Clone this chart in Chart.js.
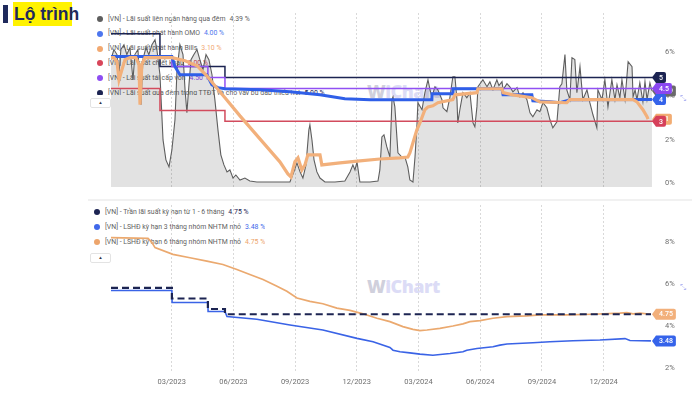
<!DOCTYPE html>
<html><head><meta charset="utf-8">
<script src="https://cdn.jsdelivr.net/npm/chart.js@4.4.1/dist/chart.umd.min.js"></script>
<style>
html,body{margin:0;padding:0;background:#fff;}
#wrap{position:relative;width:700px;height:393px;overflow:hidden;font-family:Roboto,"Noto Sans",sans-serif;}
canvas{position:absolute;left:0;}
.legend{position:absolute;overflow:hidden;font-size:6.9px;color:#5f5f5f;white-space:nowrap;}
.row{position:relative;padding-left:12px;}
.dot{position:absolute;left:1px;width:6px;height:6px;border-radius:50%;}
.val{margin-left:4px;}
.wm{position:absolute;font-family:"Open Sans",sans-serif;font-weight:800;font-size:18px;letter-spacing:-0.5px;}
.btn{position:absolute;width:19px;height:8px;border:1px solid #e3e3e3;border-radius:2px;background:#fff;font-size:4.5px;line-height:8px;text-align:center;color:#334;}
.ico{position:absolute;font-size:8px;color:#b3b7f2;font-family:"DejaVu Sans",sans-serif;}
</style></head><body>
<div id="wrap">
  <div style="position:absolute;left:3px;top:5px;width:5px;height:18px;background:#1f2a5c"></div>
  <div style="position:absolute;left:13px;top:2px;width:59px;height:24px;background:#fff200"></div>
  <div style="position:absolute;left:14px;top:2px;height:24px;line-height:24px;font-family:'Liberation Sans',Arial,sans-serif;font-weight:bold;font-size:17.5px;color:#1f2a5c">Lộ trình</div>
  <div class="wm" style="left:367px;top:79px"><span style="color:#d0d0dc">W</span><span style="color:#dcdcf6">iChart</span></div>
  <div class="wm" style="left:367px;top:274px"><span style="color:#d0d0dc">W</span><span style="color:#dcdcf6">iChart</span></div>
  <div class="legend" id="legTop" style="left:96px;top:11.6px;height:83.5px;"></div>
  <div class="legend" id="legBot" style="left:93px;top:204.6px;height:46px;"></div>
  <div style="position:absolute;left:88px;top:199px;width:604px;height:2px;background:#f1f1f1"></div>
  <canvas id="c1" width="700" height="197" style="top:0"></canvas>
  <canvas id="c2" width="700" height="196" style="top:197px"></canvas>
  <div class="btn" style="left:90px;top:98px">▲</div>
  <div class="btn" style="left:90px;top:253px">▲</div>
  <div class="ico" style="left:680px;top:94px">⤡</div>
  <div class="ico" style="left:680px;top:283px">⤡</div>
</div>
<script>
// ---------- shared x axis (months since Jan 2023) ----------
const X_MIN = -0.95, X_MAX = 25.4;
const xTickPos = [2, 5, 8, 11, 14, 17, 20, 23];
const xTickLabels = ['03/2023','06/2023','09/2023','12/2023','03/2024','06/2024','09/2024','12/2024'];
const yTicksTop = [0, 2, 4, 6];
const yTicksBot = [2, 4, 6, 8];

// ---------- top panel series ----------
const namesTop = [
  '[VN] - Lãi suất liên ngân hàng qua đêm',
  '[VN] - Lãi suất phát hành OMO',
  '[VN] - Lãi suất phát hành Bills',
  '[VN] - Lãi suất chiết khấu',
  '[VN] - Lãi suất tái cấp vốn',
  '[VN] - Lãi suất qua đêm trong TTĐT và cho vay bù đắp thiếu hụt'
];
const overnightX = [-0.95,-0.81,-0.66,-0.56,-0.47,-0.32,-0.18,-0.03,0.12,0.21,0.36,0.51,0.60,0.75,0.89,1.04,1.19,1.28,1.43,1.58,1.72,1.87,2.01,2.16,2.26,2.40,2.55,2.65,2.74,2.84,2.94,3.08,3.23,3.37,3.52,3.67,3.81,3.96,4.10,4.25,4.39,4.54,4.69,4.83,4.98,5.12,5.32,5.56,5.80,6.14,6.78,7.51,7.75,7.94,8.09,8.24,8.38,8.53,8.67,8.72,8.82,8.92,9.06,9.21,9.45,9.94,10.42,10.67,10.81,10.91,11.01,11.15,11.64,12.03,12.12,12.22,12.32,12.46,12.61,12.71,12.76,12.85,13.00,13.19,13.34,13.48,13.58,13.73,13.83,13.92,13.97,14.17,14.31,14.46,14.56,14.65,14.80,14.94,15.14,15.19,15.38,15.53,15.67,15.77,15.87,15.91,16.01,16.16,16.35,16.50,16.65,16.74,16.84,16.89,17.13,17.33,17.47,17.62,17.81,17.91,18.06,18.11,18.30,18.44,18.59,18.79,18.93,19.08,19.27,19.42,19.56,19.76,19.90,20.05,20.24,20.39,20.53,20.73,20.87,20.97,21.12,21.21,21.36,21.46,21.60,21.70,21.85,21.99,22.19,22.33,22.48,22.67,22.72,22.92,23.06,23.21,23.40,23.55,23.65,23.79,23.89,24.04,24.19,24.38,24.43,24.53,24.62,24.76,24.91,25.01,25.11,25.25,25.35];
const overnightY = [5.82,6.28,6.05,5.13,6.28,6.50,6.05,6.37,4.90,6.05,6.28,3.76,5.82,6.37,6.05,6.50,6.73,6.28,5.13,2.15,1.24,0.92,1.69,3.07,5.36,6.50,6.05,4.44,3.39,4.67,5.82,6.05,6.28,5.82,5.36,6.05,5.82,5.13,3.99,2.61,1.47,1.01,0.69,0.78,0.41,0.55,0.32,0.41,0.27,0.23,0.23,0.23,0.23,0.69,1.10,0.69,0.41,1.01,2.61,2.84,2.15,1.24,0.69,0.41,0.23,0.23,0.27,0.69,1.01,0.78,1.15,0.23,0.23,0.27,0.78,2.29,2.38,1.83,1.37,3.99,4.12,3.66,1.56,1.37,1.37,0.92,0.32,0.23,1.37,2.75,3.85,3.53,4.31,4.90,4.44,4.12,4.58,4.44,3.99,3.62,3.44,4.12,5.04,5.04,3.99,2.93,3.53,4.31,4.08,4.31,2.93,2.75,3.66,4.58,4.90,4.58,4.81,4.44,4.90,4.63,4.81,4.44,4.72,4.58,4.35,4.54,4.12,4.31,3.99,3.39,3.21,3.53,3.44,3.85,3.62,3.07,2.70,2.98,4.58,4.72,6.05,4.44,3.99,5.91,5.82,4.31,5.50,3.99,4.44,3.85,3.30,2.70,4.44,3.99,4.90,3.66,4.90,3.99,4.67,4.08,4.90,3.99,5.73,5.50,4.12,4.44,3.99,4.76,3.89,4.81,3.99,4.76,4.39];

const omoX = [-0.95,2.01,2.16,2.40,3.71,3.96,4.25,4.59,6.29,7.75,9.21,10.42,11.64,14.65,14.66,15.67,15.68,18.06,18.11,19.51,19.56,20.39,20.87,21.21,21.36,25.35];
const omoY = [5.96,5.96,5.50,5.13,5.13,4.67,4.54,4.49,4.44,4.35,4.21,4.03,3.99,3.99,4.26,4.26,4.49,4.49,4.21,4.21,3.94,3.89,3.85,3.94,3.99,4.00];

const billsX = [-0.95,-0.81,-0.66,-0.56,-0.42,-0.27,-0.03,0.26,0.41,0.46,0.55,0.70,2.01,2.65,3.23,3.71,4.10,4.59,5.32,6.29,7.26,7.65,7.80,7.99,8.14,8.33,8.48,8.62,9.21,9.30,10.18,11.15,12.12,13.10,13.48,13.58,13.73,13.92,14.07,14.31,14.46,14.70,14.94,15.67,15.77,16.84,16.89,18.06,18.11,18.59,19.51,19.90,21.21,21.36,24.43,24.62,24.91,25.11,25.16];
const billsY = [5.91,5.91,5.73,4.90,5.36,5.82,5.91,5.91,5.59,3.76,5.59,5.91,5.91,5.77,5.54,5.08,4.63,4.08,3.25,2.20,1.15,0.60,0.46,1.15,1.33,0.78,1.01,1.47,1.47,1.01,1.10,1.19,1.28,1.33,1.37,1.56,2.02,2.61,2.93,3.53,3.66,3.71,3.85,3.99,4.21,4.31,4.49,4.49,4.31,4.21,4.08,3.89,3.85,3.99,3.99,3.89,3.53,3.21,3.10];

const discountX = [-0.95,1.43,4.59,25.40];
const discountY = [4.5,3.5,3.0,3.0];
const refiX = [-0.95,2.01,3.76,4.59,25.40];
const refiY = [6.0,5.5,5.0,4.5,4.5];
const ovLendX = [-0.95,1.43,4.59,25.40];
const ovLendY = [7.0,5.5,5.0,5.0];

// ---------- bottom panel series ----------
const namesBot = [
  '[VN] - Trần lãi suất kỳ hạn từ 1 - 6 tháng',
  '[VN] - LSHĐ kỳ hạn 3 tháng nhóm NHTM nhỏ',
  '[VN] - LSHĐ kỳ hạn 6 tháng nhóm NHTM nhỏ'
];
const capX = [-0.95,2.01,3.76,4.59,25.30];
const capY = [6.0,5.5,5.0,4.75,4.75];
const dep3X = [-0.95,2.01,2.02,3.76,3.77,4.59,4.69,6.14,7.75,9.35,11.01,11.79,12.61,12.76,13.10,13.58,14.07,14.70,15.53,16.16,16.35,16.84,17.62,17.96,18.30,19.56,20.39,21.51,22.82,24.04,24.28,25.30];
const dep3Y = [5.88,5.88,5.31,5.31,4.88,4.88,4.64,4.51,4.24,4.00,3.60,3.44,3.17,3.04,2.96,2.91,2.85,2.80,2.88,2.96,3.04,3.12,3.20,3.28,3.33,3.39,3.44,3.49,3.52,3.59,3.50,3.48];
const dep6X = [-0.95,0.85,1.04,1.19,2.06,2.89,3.71,4.49,5.17,5.80,6.44,7.12,7.60,8.09,8.72,9.35,10.03,10.67,11.30,11.98,12.61,13.24,13.73,14.07,14.41,15.04,15.67,16.16,16.50,16.99,17.62,18.30,19.27,19.90,21.21,22.48,23.79,24.13,24.43,24.76,25.30];
const dep6Y = [8.40,8.36,8.16,7.92,7.60,7.44,7.28,7.12,6.88,6.64,6.40,6.08,5.84,5.52,5.36,5.25,5.04,4.93,4.77,4.56,4.40,4.16,4.03,3.97,4.00,4.08,4.19,4.29,4.40,4.45,4.56,4.64,4.67,4.72,4.72,4.75,4.80,4.83,4.77,4.80,4.75];

// ---------- colours ----------
const C = {gray:'#5e5e5e', blue:'#2f5fe8', orange:'#f2b07b', red:'#d24b5d', purple:'#9150f3', navy:'#1c2452'};
const colBot = [C.navy, '#3a63e6', '#eba96f'];

const pts = (xs, ys) => xs.map((x, i) => ({x, y: ys[i]}));
const last = a => a[a.length - 1];
const fmtTag = v => String(Math.round(v * 100) / 100);

function legend(id, names, cols, ys, rowH) {
  const el = document.getElementById(id);
  el.innerHTML = names.map((n, i) =>
    `<div class="row" style="height:${rowH}px;line-height:${rowH}px"><span class="dot" style="background:${cols[i]};top:${rowH/2-3}px"></span>${n}<span class="val" style="color:${cols[i]}">${last(ys[i]).toFixed(2)} %</span></div>`).join('');
}
legend('legTop', namesTop, [C.gray,'#4d76ee','#f2a971','#d8465a','#8e4df2',C.navy], [overnightY, omoY, billsY, discountY, refiY, ovLendY], 14.8);
legend('legBot', namesBot, [C.navy,'#4068ea','#eda56c'], [capY, dep3Y, dep6Y], 15);

Chart.defaults.font.family = 'Roboto, "Noto Sans", sans-serif';
Chart.defaults.animation = false;

const tagPlugin = {
  id: 'tags',
  afterDatasetsDraw(chart, args, opts) {
    const ctx = chart.ctx, ys = chart.scales.y, ca = chart.chartArea;
    (opts.list || []).forEach(t => {
      const ds = chart.data.datasets[t.ds];
      const v = last(ds.data).y;
      const py = ys.getPixelForValue(v);
      const txt = fmtTag(v);
      ctx.save();
      ctx.font = '500 7px Roboto';
      const w = ctx.measureText(txt).width + 6;
      const x0 = ca.right - 1, x1 = x0 + 4, h = 11, r = 2;
      ctx.beginPath();
      ctx.moveTo(x0, py);
      ctx.lineTo(x1, py - h / 2);
      ctx.lineTo(x1 + w - r, py - h / 2);
      ctx.quadraticCurveTo(x1 + w, py - h / 2, x1 + w, py - h / 2 + r);
      ctx.lineTo(x1 + w, py + h / 2 - r);
      ctx.quadraticCurveTo(x1 + w, py + h / 2, x1 + w - r, py + h / 2);
      ctx.lineTo(x1, py + h / 2);
      ctx.closePath();
      ctx.fillStyle = t.color;
      ctx.fill();
      ctx.fillStyle = '#fff';
      ctx.textBaseline = 'middle';
      ctx.textAlign = 'left';
      ctx.fillText(txt, x1 + 3, py + 0.5);
      ctx.restore();
    });
  }
};

function xAxis(showLabels) {
  return {
    type: 'linear', min: X_MIN, max: X_MAX,
    afterBuildTicks: s => { s.ticks = xTickPos.map(v => ({value: v})); },
    afterFit: s => { s.height = showLabels ? 21 : 0; s.paddingLeft = 0; s.paddingRight = 0; },
    grid: {color: '#d9d9d9', lineWidth: 1, drawTicks: false},
    border: {display: false, dash: [2, 2]},
    ticks: {display: showLabels, padding: 6, color: '#6f6f6f', font: {size: 7.5}, maxRotation: 0, autoSkip: false,
      callback: v => { const i = xTickPos.indexOf(v); return i >= 0 ? xTickLabels[i] : ''; }}
  };
}
function yAxis(min, max, ticks) {
  return {
    position: 'right', min, max,
    afterFit: s => { s.width = 47; s.paddingTop = 0; s.paddingBottom = 0; },
    afterBuildTicks: s => { s.ticks = ticks.map(v => ({value: v})); },
    grid: {display: false, drawTicks: false},
    border: {display: false},
    ticks: {padding: 12, labelOffset: -3.5, color: '#6f6f6f', font: {size: 7.5}, callback: v => v + '%'}
  };
}
const lineDs = (data, color, width, order, extra) => Object.assign({
  data, borderColor: color, borderWidth: width, pointRadius: 0, tension: 0, fill: false, order
}, extra || {});

new Chart(document.getElementById('c1'), {
  type: 'line',
  data: {datasets: [
    lineDs(pts(overnightX, overnightY), C.gray, 1.1, 6, {fill: 'origin', backgroundColor: 'rgba(0,0,0,0.115)'}),
    lineDs(pts(omoX, omoY), C.blue, 3, 2),
    lineDs(pts(billsX, billsY), C.orange, 3.2, 1),
    lineDs(pts(discountX, discountY), C.red, 1.5, 3, {stepped: 'before'}),
    lineDs(pts(refiX, refiY), C.purple, 1.5, 4, {stepped: 'before'}),
    lineDs(pts(ovLendX, ovLendY), C.navy, 1.5, 5, {stepped: 'before'})
  ]},
  options: {
    responsive: false, maintainAspectRatio: false,
    layout: {padding: {left: 111, right: 0, top: 13, bottom: 10}},
    plugins: {legend: {display: false}, tooltip: {enabled: false},
      tags: {list: [
        {ds: 0, color: '#6a6a6a'}, {ds: 2, color: '#f2ac72'}, {ds: 1, color: '#3563ea'},
        {ds: 3, color: '#d6405a'}, {ds: 4, color: '#8a47f0'}, {ds: 5, color: '#1c2452'}
      ]}},
    scales: {x: xAxis(false), y: yAxis(0, 7.95, yTicksTop)}
  },
  plugins: [tagPlugin]
});

new Chart(document.getElementById('c2'), {
  type: 'line',
  data: {datasets: [
    lineDs(pts(capX, capY), C.navy, 2.2, 1, {stepped: 'before', borderDash: [7, 4]}),
    lineDs(pts(dep3X, dep3Y), colBot[1], 1.6, 2),
    lineDs(pts(dep6X, dep6Y), colBot[2], 1.7, 3)
  ]},
  options: {
    responsive: false, maintainAspectRatio: false,
    layout: {padding: {left: 111, right: 0, top: 8, bottom: 0}},
    plugins: {legend: {display: false}, tooltip: {enabled: false},
      tags: {list: [{ds: 1, color: '#3563ea'}, {ds: 2, color: '#f2b07b'}]}},
    scales: {x: xAxis(true), y: yAxis(2, 9.95, yTicksBot)}
  },
  plugins: [tagPlugin]
});
</script>
</body></html>
